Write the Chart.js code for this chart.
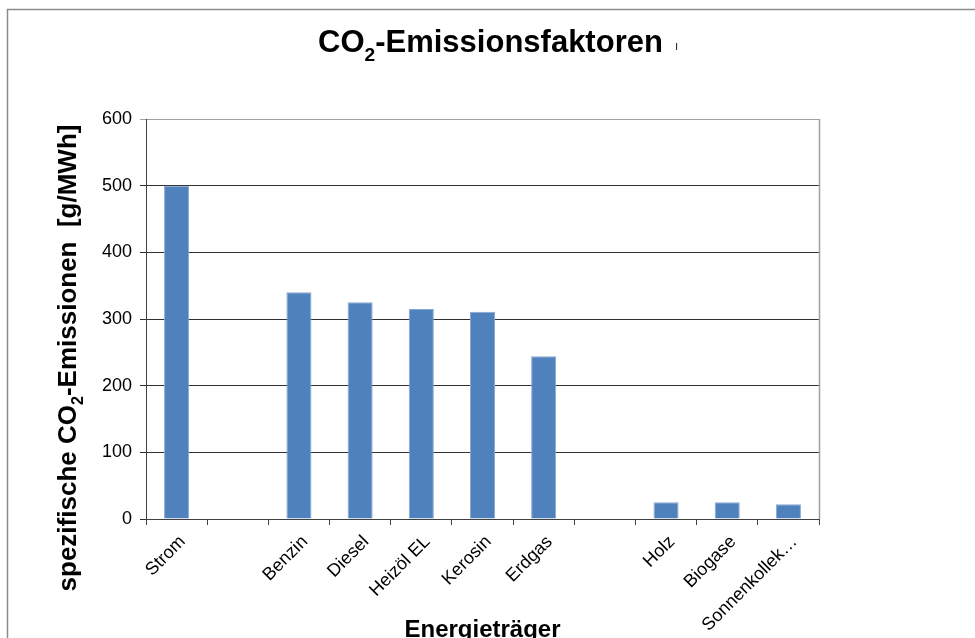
<!DOCTYPE html>
<html>
<head>
<meta charset="utf-8">
<script src="https://cdn.jsdelivr.net/npm/chart.js@4.4.1/dist/chart.umd.min.js"></script>
<style>
  html, body { margin: 0; padding: 0; background: #fff; }
  #wrap { width: 975px; height: 638px; position: relative; }
</style>
</head>
<body>
<div id="wrap"><canvas id="c" width="975" height="638"></canvas></div>
<script>
// Energy carriers (empty slots separate the groups)
const categories = ['Strom', '', 'Benzin', 'Diesel', 'Heizöl EL', 'Kerosin', 'Erdgas', '', 'Holz', 'Biogase', 'Sonnenkollek…'];
// specific CO2 emissions in g/MWh
const emissions = [500, null, 340, 325, 315, 311, 244, null, 25, 25, 22];
const yTicks = [0, 100, 200, 300, 400, 500, 600];

const FONT = '"Liberation Sans", Arial, sans-serif';
const PLOT = { left: 146, right: 819, top: 119, bottom: 519 };
const W = 975, H = 638;

// Draws text pieces in sequence, with a lowered small "2" for subscripts
function drawRich(ctx, parts, size) {
  let x = 0;
  parts.forEach(p => {
    const s = p.sub ? size * 0.62 : size;
    ctx.font = 'bold ' + s + 'px ' + FONT;
    ctx.fillText(p.t, x, p.sub ? size * 0.28 : 0);
    x += ctx.measureText(p.t).width;
  });
}
function richWidth(ctx, parts, size) {
  let w = 0;
  parts.forEach(p => {
    const s = p.sub ? size * 0.62 : size;
    ctx.font = 'bold ' + s + 'px ' + FONT;
    w += ctx.measureText(p.t).width;
  });
  return w;
}

const decorations = {
  id: 'decorations',
  beforeDraw(chart) {
    const ctx = chart.ctx;
    ctx.save();
    ctx.fillStyle = '#fff';
    ctx.fillRect(0, 0, W, H);
    // outer frame (top and left edges visible)
    ctx.strokeStyle = '#8c8c8c';
    ctx.lineWidth = 1.5;
    ctx.beginPath();
    ctx.moveTo(7.5, H + 2);
    ctx.lineTo(7.5, 9.5);
    ctx.lineTo(W + 2, 9.5);
    ctx.stroke();
    ctx.restore();
  },
  afterDraw(chart) {
    const ctx = chart.ctx;
    const a = chart.chartArea;
    const xs = chart.scales.x;
    ctx.save();
    // plot area frame on the right
    ctx.strokeStyle = '#a0a0a0';
    ctx.lineWidth = 1.5;
    ctx.beginPath();
    ctx.moveTo(a.right + 0.5, a.top);
    ctx.lineTo(a.right + 0.5, a.bottom);
    ctx.stroke();

    // slanted category labels, ending just right of each category centre
    ctx.fillStyle = '#000';
    ctx.font = '18px ' + FONT;
    ctx.textAlign = 'right';
    ctx.textBaseline = 'middle';
    categories.forEach((lab, i) => {
      if (!lab) return;
      ctx.save();
      ctx.translate(xs.getPixelForTick(i) + 6, a.bottom + 20);
      ctx.rotate(-Math.PI / 4);
      ctx.fillText(lab, 0, 0);
      ctx.restore();
    });

    ctx.textBaseline = 'alphabetic';
    ctx.textAlign = 'left';

    // chart title
    const title = [{ t: 'CO' }, { t: '2', sub: true }, { t: '-Emissionsfaktoren' }];
    const ts = 31;
    const tw = richWidth(ctx, title, ts);
    ctx.save();
    ctx.translate(318, 52);
    drawRich(ctx, title, ts);
    ctx.restore();
    ctx.font = '13px ' + FONT;
    ctx.fillStyle = '#333';
    ctx.fillText('ı', 318 + tw + 12, 50);
    ctx.fillStyle = '#000';

    // y-axis title
    const yt = [{ t: 'spezifische CO' }, { t: '2', sub: true }, { t: '-Emissionen  [g/MWh]' }];
    const ys = 26;
    const yw = richWidth(ctx, yt, ys);
    ctx.save();
    ctx.translate(76, 358 + yw / 2);
    ctx.rotate(-Math.PI / 2);
    drawRich(ctx, yt, ys);
    ctx.restore();

    // x-axis title
    ctx.font = 'bold 24px ' + FONT;
    ctx.textAlign = 'center';
    ctx.fillText('Energieträger', (a.left + a.right) / 2, 637);
    ctx.restore();
  }
};

new Chart(document.getElementById('c'), {
  type: 'bar',
  data: {
    labels: categories,
    datasets: [{
      data: emissions,
      backgroundColor: '#4f81bd',
      borderColor: '#89a9d4',
      borderWidth: 1,
      categoryPercentage: 1,
      barPercentage: 0.41
    }]
  },
  options: {
    responsive: false,
    animation: false,
    devicePixelRatio: 1,
    layout: { padding: { left: 0, top: PLOT.top, right: W - PLOT.right, bottom: 0 } },
    plugins: { legend: { display: false }, title: { display: false }, tooltip: { enabled: false } },
    scales: {
      x: {
        offset: true,
        grid: { offset: true, drawOnChartArea: false, drawTicks: true, tickLength: 6, color: '#404040' },
        border: { display: true, color: '#404040', width: 1 },
        ticks: { display: false, autoSkip: false },
        afterFit(s) { s.height = H - PLOT.bottom; }
      },
      y: {
        min: 0, max: 600,
        afterBuildTicks(s) { s.ticks = yTicks.map(v => ({ value: v })); },
        grid: {
          drawTicks: true, tickLength: 6,
          color: ctx => (ctx.tick && ctx.tick.value === 600) ? '#a0a0a0' : '#303030'
        },
        border: { display: true, color: '#404040', width: 1 },
        ticks: { color: '#000', font: { family: FONT, size: 18 }, padding: 8 },
        afterFit(s) { s.width = PLOT.left; }
      }
    }
  },
  plugins: [decorations]
});
</script>
</body>
</html>
